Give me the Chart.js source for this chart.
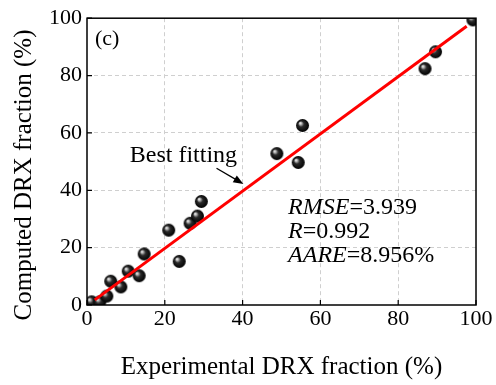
<!DOCTYPE html>
<html lang="en">
<head>
    <meta charset="UTF-8">
    <title>Computed vs Experimental DRX fraction</title>
    <script src="https://cdn.jsdelivr.net/npm/chart.js"></script>
    <style>
        body { margin: 0; background: #fff; }
    </style>
</head>
<body>
    <canvas id="myChart" width="496" height="385"></canvas>

    <script>
        // experimental vs computed DRX fraction (%)
        const expValues = [1.2, 3.3, 5.1, 6.1, 8.7, 10.6, 13.4, 14.7, 21.0, 23.7, 26.5, 28.4, 29.4, 48.8, 54.3, 55.4, 86.9, 89.6, 99.2];
        const compValues = [1.1, 1.1, 3.1, 8.3, 6.3, 11.8, 10.2, 17.8, 26.1, 15.2, 28.5, 31.0, 36.1, 52.8, 49.7, 62.6, 82.4, 88.3, 99.4];
        // best fitting line end points
        const fitX = [2.0, 97.6];
        const fitY = [1.8, 97.2];
        const tickValues = [0, 20, 40, 60, 80, 100];
        const statLines = [['RMSE', '=3.939'], ['R', '=0.992'], ['AARE', '=8.956%']];

        const serif = '"Liberation Serif", "Times New Roman", serif';

        // little shaded ball used as point style
        function makeBall(r) {
            const c = document.createElement('canvas');
            c.width = c.height = r * 2 + 2;
            const g = c.getContext('2d');
            const cx = r + 1, cy = r + 1;
            const grad = g.createRadialGradient(cx - r * 0.4, cy - r * 0.4, 0, cx, cy, r);
            grad.addColorStop(0, '#ffffff');
            grad.addColorStop(0.18, '#bdbdbd');
            grad.addColorStop(0.45, '#2a2a2a');
            grad.addColorStop(1, '#000000');
            g.fillStyle = grad;
            g.beginPath();
            g.arc(cx, cy, r, 0, Math.PI * 2);
            g.fill();
            return c;
        }
        const ball = makeBall(6.5);

        const decorations = {
            id: 'decorations',
            afterDraw(chart) {
                const { ctx, chartArea: a, scales: { x, y } } = chart;
                ctx.save();

                // frame
                ctx.strokeStyle = '#000';
                ctx.lineWidth = 1.5;
                ctx.strokeRect(a.left, a.top, a.right - a.left, a.bottom - a.top);

                // inward tick marks
                ctx.lineWidth = 1.2;
                ctx.beginPath();
                tickValues.forEach(v => {
                    const py = y.getPixelForValue(v);
                    ctx.moveTo(a.left, py); ctx.lineTo(a.left + 5, py);
                    const px = x.getPixelForValue(v);
                    ctx.moveTo(px, a.bottom); ctx.lineTo(px, a.bottom - 5);
                });
                ctx.stroke();

                ctx.fillStyle = '#000';
                ctx.textBaseline = 'alphabetic';
                ctx.textAlign = 'left';

                // panel label
                ctx.font = '22px ' + serif;
                ctx.fillText('(c)', a.left + 8, a.top + 27);

                // best fitting label + arrow
                ctx.font = '24px ' + serif;
                ctx.fillText('Best fitting', x.getPixelForValue(11.0), y.getPixelForValue(49.8));
                const x0 = x.getPixelForValue(33.3), y0 = y.getPixelForValue(47.7);
                const x1 = x.getPixelForValue(40.2), y1 = y.getPixelForValue(42.2);
                const ang = Math.atan2(y1 - y0, x1 - x0);
                ctx.lineWidth = 1.3;
                ctx.beginPath();
                ctx.moveTo(x0, y0);
                ctx.lineTo(x1 - 7 * Math.cos(ang), y1 - 7 * Math.sin(ang));
                ctx.stroke();
                ctx.beginPath();
                ctx.moveTo(x1, y1);
                ctx.lineTo(x1 - 10 * Math.cos(ang) + 4 * Math.sin(ang), y1 - 10 * Math.sin(ang) - 4 * Math.cos(ang));
                ctx.lineTo(x1 - 10 * Math.cos(ang) - 4 * Math.sin(ang), y1 - 10 * Math.sin(ang) + 4 * Math.cos(ang));
                ctx.closePath();
                ctx.fill();

                // statistics
                const sx = x.getPixelForValue(51.7);
                let sy = y.getPixelForValue(31.8);
                statLines.forEach(([name, val]) => {
                    ctx.font = 'italic 24px ' + serif;
                    ctx.fillText(name, sx, sy);
                    const w = ctx.measureText(name).width;
                    ctx.font = '24px ' + serif;
                    ctx.fillText(val, sx + w, sy);
                    sy += 24;
                });

                // y axis title
                ctx.translate(24, 175);
                ctx.rotate(-Math.PI / 2);
                ctx.textAlign = 'center';
                ctx.textBaseline = 'middle';
                ctx.font = '25px ' + serif;
                ctx.fillText('Computed DRX fraction (%)', 0, 0);

                ctx.restore();
            }
        };

        const gridColor = c => (c.tick && (c.tick.value === 0 || c.tick.value === 100)) ? 'rgba(0,0,0,0)' : '#cfcfcf';

        new Chart(document.getElementById('myChart').getContext('2d'), {
            data: {
                datasets: [{
                    type: 'line',
                    label: 'Best fitting',
                    data: fitX.map((v, i) => ({ x: v, y: fitY[i] })),
                    borderColor: '#ff0000',
                    borderWidth: 3,
                    pointRadius: 0,
                    fill: false,
                    order: 0
                }, {
                    type: 'scatter',
                    label: 'Data',
                    data: expValues.map((v, i) => ({ x: v, y: compValues[i] })),
                    pointStyle: ball,
                    pointRadius: 6.5,
                    clip: 0,
                    order: 1
                }]
            },
            options: {
                responsive: false,
                animation: false,
                layout: { padding: { top: 15, right: 20, left: 0, bottom: 0 } },
                plugins: {
                    legend: { display: false },
                    tooltip: { enabled: false }
                },
                scales: {
                    x: {
                        type: 'linear',
                        min: 0, max: 100,
                        ticks: { stepSize: 20, color: '#000', padding: 1, font: { family: serif, size: 22 } },
                        grid: { color: gridColor, drawTicks: false },
                        border: { display: false, dash: [4, 3] },
                        title: { display: true, text: 'Experimental DRX fraction (%)', color: '#000', font: { family: serif, size: 25 }, padding: { top: 0, bottom: 3 } },
                        afterFit(s) { s.height = 80; }
                    },
                    y: {
                        type: 'linear',
                        min: 0, max: 100,
                        ticks: { stepSize: 20, color: '#000', padding: 5, font: { family: serif, size: 22 } },
                        grid: { color: gridColor, drawTicks: false },
                        border: { display: false, dash: [4, 3] },
                        afterFit(s) { s.width = 87; }
                    }
                }
            },
            plugins: [decorations]
        });
    </script>
</body>
</html>
